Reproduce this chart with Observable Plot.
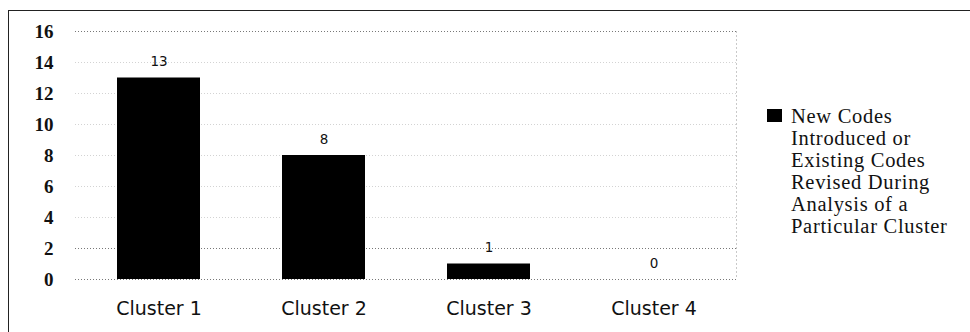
<!DOCTYPE html>
<html>
<head>
<meta charset="utf-8">
<script src="https://cdn.jsdelivr.net/npm/d3@7"></script>
<script src="https://cdn.jsdelivr.net/npm/@observablehq/plot@0.6"></script>
<style>
  html, body { margin: 0; padding: 0; background: #fff; }
  #wrap { position: relative; width: 970px; height: 332px; overflow: hidden; }
  #frame { position: absolute; left: 8px; top: 10px; width: 980px; height: 340px; border-left: 1.5px solid #222; border-top: 1.5px solid #222; box-sizing: border-box; pointer-events: none; }
  #legend { position: absolute; left: 767px; top: 105px; font-family: "Liberation Serif", "Times New Roman", serif; font-size: 20.5px; letter-spacing: 0.7px; line-height: 22px; color: #111; }
  #legend .sw { position: absolute; left: 0; top: 4px; width: 15px; height: 13px; background: #000; }
  #legend .tx { margin-left: 24px; }
</style>
</head>
<body>
<div id="wrap">
  <div id="chart"></div>
  <div id="frame"></div>
  <div id="legend"><div class="sw"></div><div class="tx" id="legendText"></div></div>
</div>
<script>
const categories = ["Cluster 1", "Cluster 2", "Cluster 3", "Cluster 4"];
const values = [13, 8, 1, 0];
const yTicks = [0, 2, 4, 6, 8, 10, 12, 14, 16];
const seriesName = ["New Codes", "Introduced or", "Existing Codes", "Revised During", "Analysis of a", "Particular Cluster"];

const data = categories.map((c, i) => ({cluster: c, value: values[i]}));

document.getElementById("legendText").innerHTML = seriesName.join("<br>");

const strongLines = [0, 2, 16];

const chart = Plot.plot({
  width: 970,
  height: 332,
  marginLeft: 75,
  marginRight: 234,
  marginTop: 31,
  marginBottom: 53,
  style: {background: "transparent", color: "#111"},
  x: {domain: categories, paddingInner: 0.5, paddingOuter: 0.25, label: null},
  y: {domain: [0, 16], label: null},
  marks: [
    Plot.ruleY(yTicks, {stroke: d => strongLines.includes(d) ? "#555" : "#c8c8c8", strokeWidth: 0.8, strokeDasharray: "1,2"}),
    Plot.frame({anchor: "right", stroke: "#bbb", strokeWidth: 0.8, strokeDasharray: "1,3"}),
    Plot.barY(data, {x: "cluster", y: "value", fill: "#000"}),
    Plot.text(data, {x: "cluster", y: "value", text: d => String(d.value), dy: -16, fontFamily: "DejaVu Sans, sans-serif", fontSize: 13.5, fill: "#111"}),
    Plot.axisY({ticks: yTicks, tickSize: 0, tickPadding: 22, fontFamily: "Liberation Serif, Times New Roman, serif", fontSize: 19, fontWeight: "bold", tickFormat: d => String(d)}),
    Plot.axisX({tickSize: 0, tickPadding: 22, fontFamily: "DejaVu Sans, sans-serif", fontSize: 19})
  ]
});
document.getElementById("chart").appendChild(chart);
</script>
</body>
</html>
